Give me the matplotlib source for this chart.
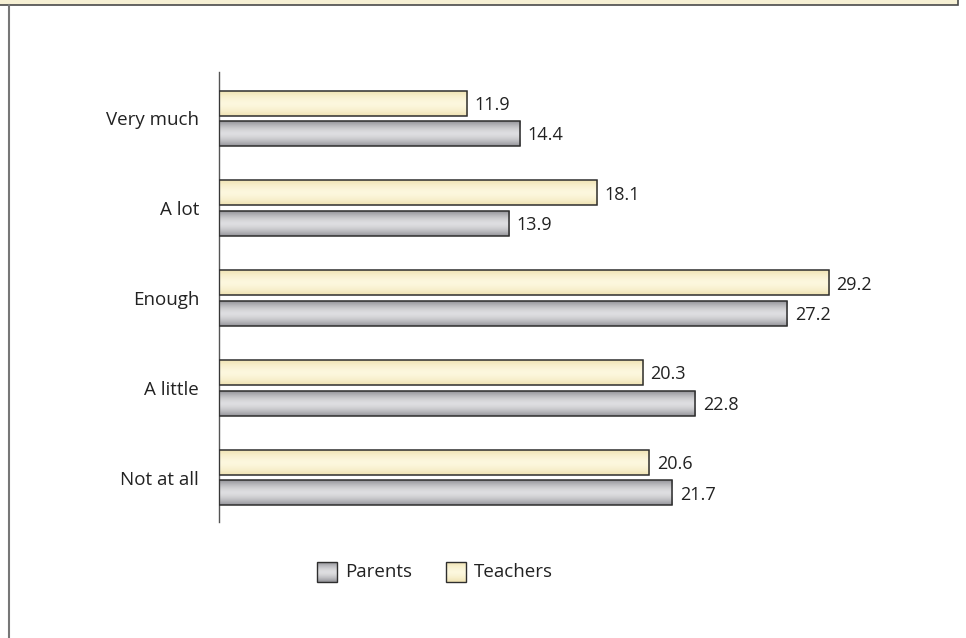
import matplotlib
matplotlib.use('Agg')
import matplotlib.pyplot as plt
from matplotlib.patches import Rectangle
from matplotlib.lines import Line2D
import numpy as np

categories = ['Very much', 'A lot', 'Enough', 'A little', 'Not at all']
parents = [14.4, 13.9, 27.2, 22.8, 21.7]
teachers = [11.9, 18.1, 29.2, 20.3, 20.6]

plt.rcParams['font.family'] = ['Open Sans', 'DejaVu Sans']

W, H = 966, 638
fig = plt.figure(figsize=(W / 100, H / 100), dpi=100)
ax = fig.add_axes([218.5 / W, 1 - 522 / H, (930 - 218.5) / W, (522 - 72) / H])

GRAY_EDGE, GRAY_MID = np.array([0.58, 0.58, 0.60]), np.array([0.87, 0.87, 0.88])
YEL_EDGE, YEL_MID = np.array([0.94, 0.89, 0.70]), np.array([0.99, 0.97, 0.87])


def gradient(c_edge, c_mid, n=60):
    t = np.linspace(0, 1, n)
    p = 1 - np.abs(2 * t - 1) ** 1.6
    rgb = c_edge[None, :] + (c_mid - c_edge)[None, :] * p[:, None]
    return np.repeat(rgb[:, None, :], 2, axis=1)


def shade(bar, c_edge, c_mid):
    # vertical gradient, darker at the edges, clipped to the bar
    x0, y0 = bar.get_x(), bar.get_y()
    w, h = bar.get_width(), bar.get_height()
    im = ax.imshow(gradient(c_edge, c_mid), extent=[x0, x0 + w, y0, y0 + h], aspect='auto',
                   interpolation='bilinear', zorder=2, origin='lower')
    im.set_clip_path(bar)


y = np.arange(len(categories))
bh = 0.278
off = 0.169
tb = ax.barh(y - off, teachers, height=bh, facecolor='none',
             edgecolor='#2e2e2e', linewidth=1.1, zorder=3)
pb = ax.barh(y + off, parents, height=bh, facecolor='none',
             edgecolor='#2e2e2e', linewidth=1.1, zorder=3)
for b in tb:
    shade(b, YEL_EDGE, YEL_MID)
for b in pb:
    shade(b, GRAY_EDGE, GRAY_MID)

for yy, v in zip(y - off, teachers):
    ax.text(v + 0.36, yy + 0.02, f'{v:.1f}', va='center', ha='left', fontsize=13, color='#222')
for yy, v in zip(y + off, parents):
    ax.text(v + 0.36, yy + 0.02, f'{v:.1f}', va='center', ha='left', fontsize=13, color='#222')

ax.set_xlim(0, (930 - 218.5) / 20.91)
ax.set_ylim(4.493, -0.515)
ax.set_yticks(y)
ax.set_yticklabels(categories, fontsize=13.5, color='#222')
ax.tick_params(axis='y', length=0, pad=14)
ax.set_xticks([])
for s in ['top', 'right', 'bottom']:
    ax.spines[s].set_visible(False)
ax.spines['left'].set_color('#555')
ax.spines['left'].set_linewidth(1.0)


# legend drawn by hand under the plot
def legend_item(x, label, c_edge, c_mid):
    sq = Rectangle((x / W, 1 - 581.5 / H), 19.5 / W, 19.5 / H, transform=fig.transFigure,
                   facecolor='none', edgecolor='#2e2e2e', linewidth=1.0, zorder=3)
    fig.patches.append(sq)
    lax = fig.add_axes([x / W, 1 - 581.5 / H, 19.5 / W, 19.5 / H])
    lax.imshow(gradient(c_edge, c_mid, 30), aspect='auto', extent=[0, 1, 0, 1], origin='lower')
    lax.axis('off')
    fig.text((x + 28) / W, 1 - 572 / H, label, va='center', ha='left', fontsize=13.5, color='#222')


legend_item(317, 'Parents', GRAY_EDGE, GRAY_MID)
legend_item(446, 'Teachers', YEL_EDGE, YEL_MID)

# frame fragments at the top and left edge
fig.patches.append(Rectangle((-0.01, 1 - 5 / H), 958 / W + 0.01, 6 / H, transform=fig.transFigure,
                             facecolor='#f6f0d4', edgecolor='#4a4a4a', linewidth=1.2))
fig.lines.append(Line2D([8.7 / W, 8.7 / W], [0, 1 - 5 / H], transform=fig.transFigure,
                        color='#777', linewidth=1.5))

fig.savefig('out.png', dpi=100)
